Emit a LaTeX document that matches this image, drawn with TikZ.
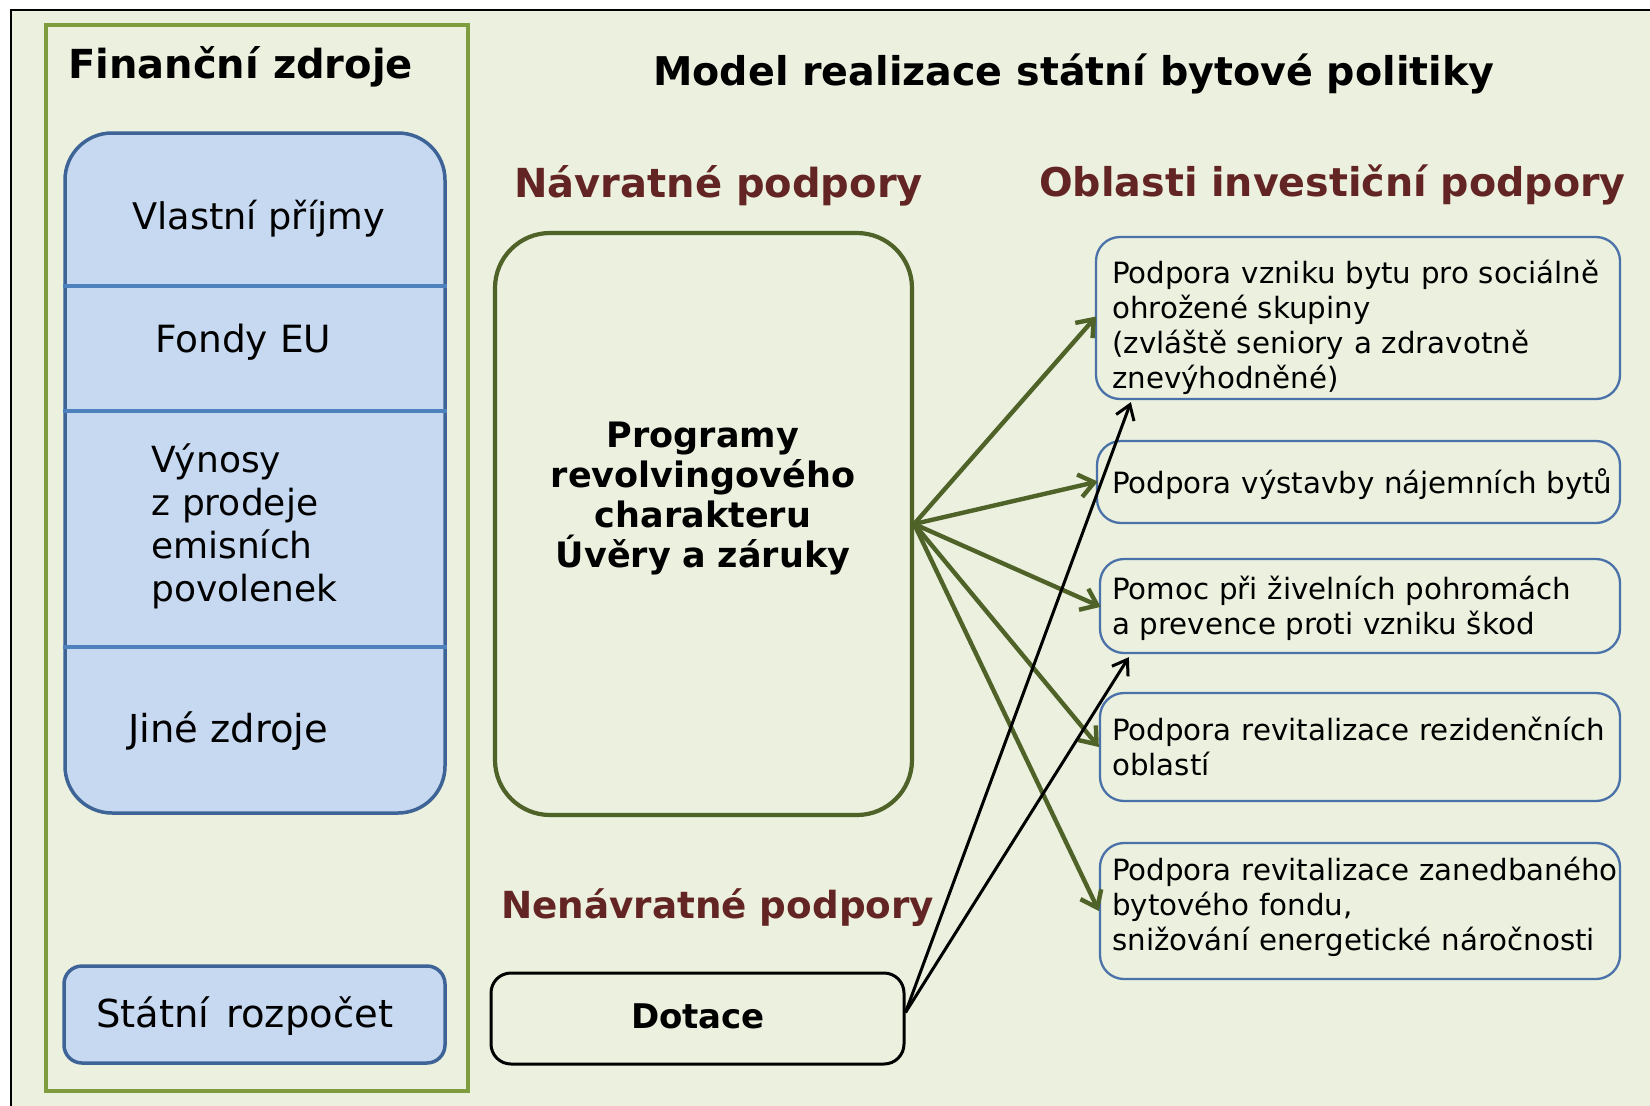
\documentclass[tikz,border=0pt]{standalone}
\usepackage{fontspec}
\setmainfont{DejaVu Sans}
\usetikzlibrary{arrows.meta,calc}
\definecolor{bg}{HTML}{EBF0DF}
\definecolor{olivegreen}{HTML}{7F9C3E}
\definecolor{darkolive}{HTML}{4F6228}
\definecolor{bluefill}{HTML}{C6D9F1}
\definecolor{blueedge}{HTML}{3E6497}
\definecolor{bluediv}{HTML}{4F81BD}
\definecolor{rboxedge}{HTML}{4A72A8}
\definecolor{darkred}{HTML}{632523}
\newcommand\fsz[2]{\fontsize{#1}{#2}\selectfont}
\tikzset{
  boxblue/.style={draw=blueedge, fill=bluefill, line width=3.5, inner sep=0},
  rbox/.style={draw=rboxedge, line width=2.3, rounded corners=24, inner sep=0},
  rtext/.style={anchor=base west, text width=600, align=left, inner sep=0, font=\fsz{29.3}{35}},
  btext/.style={anchor=base west, inner sep=0, font=\fsz{37.5}{43}},
  redhead/.style={anchor=base west, inner sep=0, font=\bfseries\fsz{40}{48}, text=darkred},
  garrow/.style={darkolive, line width=4.4, -{Straight Barb[length=15pt,width=23pt]}},
  karrow/.style={black, line width=3, -{Straight Barb[length=14pt,width=19pt]}},
}
\begin{document}
\begin{tikzpicture}[x=1pt,y=-1pt]
\useasboundingbox (0,0) rectangle (1650,1106);
\fill[white] (0,0) rectangle (1650,1106);
\draw[line width=2, fill=bg] (11,9.5) rectangle (1680,1140);

% Financni zdroje frame
\node[draw=olivegreen, line width=3.5, minimum width=422, minimum height=1066, inner sep=0] (fz) at (257,558) {};
\node[anchor=base west, inner sep=0, font=\bfseries\fsz{40}{48}] (fzt) at (68,78) {Finanční zdroje};

% stacked blue box
\node[boxblue, rounded corners=47, minimum width=380, minimum height=680] (stack) at (255,473) {};
\coordinate (d1) at (0,286);
\coordinate (d2) at (0,411);
\coordinate (d3) at (0,647);
\draw[bluediv, line width=3.5] (stack.west |- d1) -- (stack.east |- d1);
\draw[bluediv, line width=3.5] (stack.west |- d2) -- (stack.east |- d2);
\draw[bluediv, line width=3.5] (stack.west |- d3) -- (stack.east |- d3);
\node[btext, font=\fsz{36.7}{43}] (s1) at (132,229) {Vlastní příjmy};
\node[btext] (s2) at (155,352) {Fondy EU};
\node[btext, align=left, text width=280, font=\fsz{36}{43.3}] (s3) at (151,472) {Výnosy\\z prodeje\\emisních\\povolenek};
\node[btext, font=\fsz{38.5}{43}] (s4) at (128,742) {Jiné zdroje};

\node[boxblue, rounded corners=18, minimum width=381, minimum height=97] (sr) at (254.5,1014.5) {};
\node[btext, font=\fsz{38.5}{43}] (srt) at (96,1027) {Státní\hspace{0.12em} rozpočet};

% title
\node[anchor=base west, inner sep=0, font=\bfseries\fsz{39.6}{46}] (title) at (653,85) {Model realizace státní bytové politiky};

% headings
\node[redhead] (h1) at (514,197) {Návratné podpory};
\node[redhead, font=\bfseries\fsz{39.6}{48}] (h2) at (1039,196) {Oblasti investiční podpory};
\node[redhead, font=\bfseries\fsz{37.3}{44}] (h3) at (501,918) {Nenávratné podpory};

% programs box
\node[draw=darkolive, line width=4.2, rounded corners=55, minimum width=417, minimum height=582, inner sep=0] (prog) at (703.5,524) {};
\node[anchor=base, text width=400, align=center, inner sep=0, font=\bfseries\fsz{35}{40.3}] (progt) at (703,447) {Programy\\revolvingového\\charakteru\\Úvěry a záruky};

% dotace
\node[draw=black, line width=3, rounded corners=20, minimum width=413, minimum height=91, inner sep=0] (dot) at (697.5,1018.5) {};
\node[anchor=base, inner sep=0, font=\bfseries\fsz{34}{40}] (dott) at (698,1028) {Dotace};

% right boxes
\node[rbox, minimum width=524, minimum height=162] (b1) at (1358,318) {};
\node[rbox, minimum width=523, minimum height=82] (b2) at (1358.5,482) {};
\node[rbox, minimum width=520, minimum height=94] (b3) at (1360,606) {};
\node[rbox, minimum width=520, minimum height=108] (b4) at (1360,747) {};
\node[rbox, minimum width=520, minimum height=136] (b5) at (1360,911) {};
\node[rtext] (t1) at (1112,283) {Podpora vzniku bytu pro sociálně\\ohrožené skupiny\\(zvláště seniory a zdravotně\\znevýhodněné)};
\node[rtext] (t2) at (1112,493) {Podpora výstavby nájemních bytů};
\node[rtext] (t3) at (1112,599) {Pomoc při živelních pohromách\\a prevence proti vzniku škod};
\node[rtext] (t4) at (1112,740) {Podpora revitalizace rezidenčních\\oblastí};
\node[rtext] (t5) at (1112,880) {Podpora revitalizace zanedbaného\\bytového fondu,\\snižování energetické náročnosti};

% green arrows
\draw[garrow, shorten >=-2] (prog.east) -- (b1.west);
\draw[garrow, shorten >=-2] (prog.east) -- (b2.west);
\draw[garrow, shorten >=-2] (prog.east) -- (b3.west);
\draw[garrow, shorten >=0] (prog.east) -- (b4.west);
\draw[garrow, shorten >=0] (prog.east) -- (b5.west);

% black arrows
\coordinate (dsrc) at ($(dot.east)+(0,-6)$);
\coordinate (k1) at ($(b1.south west)+(36,2)$);
\coordinate (k2) at ($(b3.south west)+(30,3)$);
\draw[karrow] (dsrc) -- (k1);
\draw[karrow] (dsrc) -- (k2);
\end{tikzpicture}
\end{document}
